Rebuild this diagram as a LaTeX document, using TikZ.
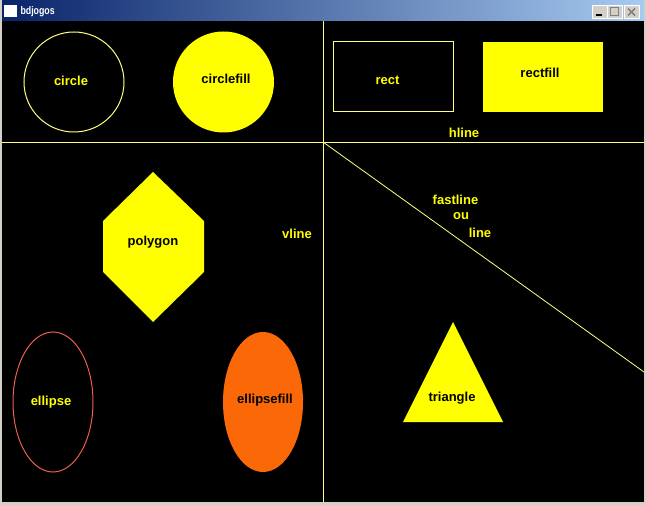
\documentclass[tikz,border=0pt]{standalone}
\usepackage{fontspec}
\setmainfont{Liberation Sans}
\newfontfamily\titlefont[FakeStretch=0.8]{Liberation Sans}
\usetikzlibrary{shapes.geometric}
\definecolor{paleyellow}{RGB}{255,255,128}
\definecolor{shapeyellow}{RGB}{255,255,0}
\definecolor{ellred}{RGB}{235,95,75}
\definecolor{ellorange}{RGB}{250,104,8}
\definecolor{wingray}{RGB}{212,208,200}
\definecolor{titledark}{RGB}{10,36,106}
\definecolor{titlelight}{RGB}{166,202,240}

\begin{document}
\begin{tikzpicture}[x=1pt,y=-1pt,line width=1pt,
		lbl/.style={font=\fontsize{13}{13}\selectfont\bfseries,text=shapeyellow,anchor=base,inner sep=0pt},
		dlbl/.style={lbl,text=black},
		outline/.style={draw=paleyellow,inner sep=0pt},
		filled/.style={fill=shapeyellow,inner sep=0pt},
		winbtn/.style={fill=wingray,draw=white,minimum width=15pt,minimum height=13pt,inner sep=0pt}]
			\useasboundingbox (0,0) rectangle (646,505);
			% window
			\fill[wingray] (0,0) rectangle (646,505);
			\shade[left color=titledark,right color=titlelight] (2,1) rectangle (644,21);
			\fill[black] (2,21) rectangle (644,502);
			\node[fill=white,minimum width=13pt,minimum height=12pt,inner sep=0pt] (icon) at (10,11) {};
			\node[anchor=base west,text=white,font=\titlefont\fontsize{11}{12}\selectfont\bfseries,inner sep=0pt] (title) at (20,15) {bdjogos};
			\node[winbtn] (minbtn)   at (599.5,12) {};
			\node[winbtn] (maxbtn)   at (614.5,12) {};
			\node[winbtn] (closebtn) at (631.5,12) {};
			\draw[line width=2pt] ([xshift=-4pt,yshift=-3.5pt]minbtn.center) -- ++(6,0);
			\draw[gray] ([xshift=-4pt,yshift=-4pt]maxbtn.center) rectangle ([xshift=4pt,yshift=4pt]maxbtn.center);
			\draw[gray,line width=1.5pt] ([xshift=-3.5pt,yshift=-3.5pt]closebtn.center) -- ([xshift=3.5pt,yshift=3.5pt]closebtn.center);
			\draw[gray,line width=1.5pt] ([xshift=-3.5pt,yshift=3.5pt]closebtn.center) -- ([xshift=3.5pt,yshift=-3.5pt]closebtn.center);
			% vline, hline, line
			\draw[paleyellow] (323.5,21) -- (323.5,502);
			\draw[paleyellow] (2,142.5) -- (644,142.5);
			\draw[paleyellow,line width=0.8pt] (323,142) -- (644,372);
			% shapes
			\node[outline,circle,minimum size=100pt] (circ)     at (74,82) {};
			\node[filled,circle,minimum size=101pt]  (circfill) at (223.5,82) {};
			\node[outline,minimum width=120pt,minimum height=70pt] (rect)     at (393,77) {};
			\node[filled,minimum width=120pt,minimum height=70pt]  (rectfill) at (543,77) {};
			\fill[shapeyellow] (153,172) -- (204,221) -- (204,272) -- (153,322) -- (103,272) -- (103,221) -- cycle;
			\node[draw=ellred,ellipse,minimum width=80pt,minimum height=140pt,inner sep=0pt] (ell)     at (53,402) {};
			\node[fill=ellorange,ellipse,minimum width=80pt,minimum height=140pt,inner sep=0pt] (ellfill) at (263,402) {};
			\fill[shapeyellow] (453,322) -- (503,422) -- (403,422) -- cycle;
			% texts
			\node[lbl]  (circlelbl)     at (71,86)   {circle};
			\node[dlbl] (circlefilllbl) at (226,84)  {circlefill};
			\node[lbl]  (rectlbl)       at (387.5,85) {rect};
			\node[dlbl] (rectfilllbl)   at (540,78)  {rectfill};
			\node[lbl]  (hlinelbl)      at (464,138) {hline};
			\node[dlbl] (polygonlbl)    at (153,246) {polygon};
			\node[lbl]  (vlinelbl)      at (297,239) {vline};
			\node[lbl]  (fastlinelbl)   at (455.5,205) {fastline};
			\node[lbl]  (oulbl)         at (461,220) {ou};
			\node[lbl]  (linelbl)       at (480,238) {line};
			\node[lbl]  (ellipselbl)    at (51,406)  {ellipse};
			\node[dlbl] (ellipsefilllbl) at (265,403) {ellipsefill};
			\node[dlbl] (trianglelbl)   at (452,402) {triangle};
		\end{tikzpicture}
\end{document}
